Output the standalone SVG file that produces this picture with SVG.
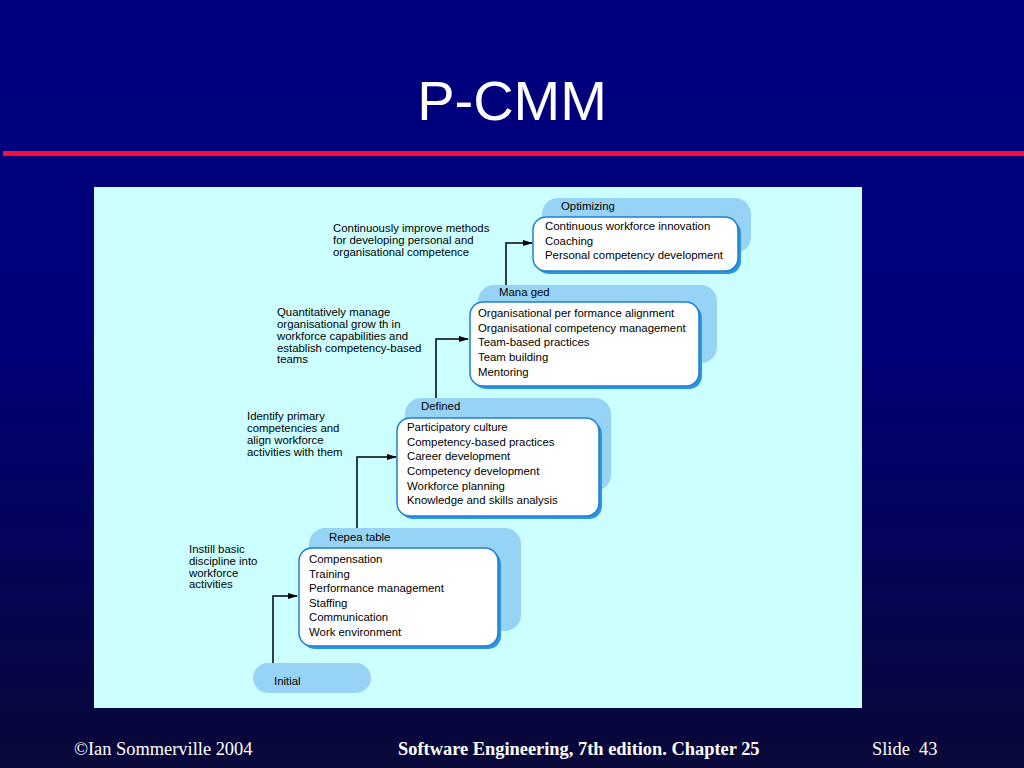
<svg xmlns="http://www.w3.org/2000/svg" width="1024" height="768" viewBox="0 0 1024 768">
<defs>
<linearGradient id="bg" x1="0" y1="0" x2="0" y2="1">
<stop offset="0" stop-color="#000080"/>
<stop offset="0.45" stop-color="#000078"/>
<stop offset="1" stop-color="#080838"/>
</linearGradient>
<marker id="ah" markerWidth="10" markerHeight="8" refX="9" refY="4" orient="auto" markerUnits="userSpaceOnUse">
<path d="M0,1 L10,4 L0,7 Z" fill="#000"/>
</marker>
<style>
.tab{fill:#96d3f5;}
.shadow{fill:#2b95dd;}
.box{fill:#ffffff;stroke:#1f7fd0;stroke-width:1.5;}
.t{font-family:"Liberation Sans",Arial,sans-serif;font-size:11.4px;fill:#000;}
.conn{fill:none;stroke:#000;stroke-width:1.5;}
.foot{font-family:"Liberation Serif","Times New Roman",serif;font-size:18.4px;fill:#fff;}
</style>
</defs>
<rect x="0" y="0" width="1024" height="768" fill="url(#bg)"/>
<text x="512" y="120" text-anchor="middle" font-family="Liberation Sans,Arial,sans-serif" font-size="56" fill="#fff">P-CMM</text>
<rect x="3" y="151" width="1021" height="5" fill="#f0103a"/>
<rect x="94" y="187" width="768" height="521" fill="#ccffff"/>

<g id="initial">
<rect class="tab" x="253" y="663" width="118" height="30" rx="15"/>
<text class="t" x="274" y="685">Initial</text>
</g>

<g id="repeatable">
<rect class="tab" x="309" y="528" width="212" height="103" rx="16"/>
<text class="t" x="329" y="541">Repea table</text>
<rect class="shadow" x="302" y="551" width="199" height="98" rx="13"/>
<rect class="box" x="299" y="548" width="199" height="98" rx="13"/>
<text class="t" x="309" y="563">Compensation</text>
<text class="t" x="309" y="578">Training</text>
<text class="t" x="309" y="592">Performance management</text>
<text class="t" x="309" y="607">Staffing</text>
<text class="t" x="309" y="621">Communication</text>
<text class="t" x="309" y="636">Work environment</text>
</g>

<g id="defined">
<rect class="tab" x="405" y="398" width="206" height="93" rx="16"/>
<text class="t" x="421" y="410">Defined</text>
<rect class="shadow" x="400" y="421" width="202" height="98" rx="13"/>
<rect class="box" x="397" y="418" width="202" height="98" rx="13"/>
<text class="t" x="407" y="431">Participatory culture</text>
<text class="t" x="407" y="446">Competency-based practices</text>
<text class="t" x="407" y="460">Career development</text>
<text class="t" x="407" y="475">Competency development</text>
<text class="t" x="407" y="490">Workforce planning</text>
<text class="t" x="407" y="504">Knowledge and skills analysis</text>
</g>

<g id="managed">
<rect class="tab" x="478" y="285" width="239" height="78" rx="16"/>
<text class="t" x="499" y="296">Mana ged</text>
<rect class="shadow" x="473" y="305" width="229" height="84" rx="13"/>
<rect class="box" x="470" y="302" width="229" height="84" rx="13"/>
<text class="t" x="478" y="317">Organisational per formance alignment</text>
<text class="t" x="478" y="332">Organisational competency management</text>
<text class="t" x="478" y="346">Team-based practices</text>
<text class="t" x="478" y="361">Team building</text>
<text class="t" x="478" y="376">Mentoring</text>
</g>

<g id="optimizing">
<rect class="tab" x="542" y="198" width="209" height="55" rx="16"/>
<text class="t" x="561" y="210">Optimizing</text>
<rect class="shadow" x="536" y="220" width="205" height="54" rx="13"/>
<rect class="box" x="533" y="217" width="205" height="54" rx="13"/>
<text class="t" x="545" y="230">Continuous workforce innovation</text>
<text class="t" x="545" y="245">Coaching</text>
<text class="t" x="545" y="259">Personal competency development</text>
</g>

<g id="labels">
<text class="t" x="333" y="232">Continuously improve methods</text>
<text class="t" x="333" y="244">for developing personal and</text>
<text class="t" x="333" y="256">organisational competence</text>
<text class="t" x="277" y="316">Quantitatively manage</text>
<text class="t" x="277" y="328">organisational grow th in</text>
<text class="t" x="277" y="340">workforce capabilities and</text>
<text class="t" x="277" y="352">establish competency-based</text>
<text class="t" x="277" y="363">teams</text>
<text class="t" x="247" y="420">Identify primary</text>
<text class="t" x="247" y="432">competencies and</text>
<text class="t" x="247" y="444">align workforce</text>
<text class="t" x="247" y="456">activities with them</text>
<text class="t" x="189" y="553">Instill basic</text>
<text class="t" x="189" y="565">discipline into</text>
<text class="t" x="189" y="577">workforce</text>
<text class="t" x="189" y="588">activities</text>
</g>

<g id="connectors">
<path class="conn" d="M273,663 V596 H297" marker-end="url(#ah)"/>
<path class="conn" d="M357,528 V457 H396" marker-end="url(#ah)"/>
<path class="conn" d="M436,398 V339 H468" marker-end="url(#ah)"/>
<path class="conn" d="M506,285 V243 H532" marker-end="url(#ah)"/>
</g>

<text class="foot" x="74" y="755">©Ian Sommerville 2004</text>
<text class="foot" x="398" y="755" font-weight="bold">Software Engineering, 7th edition. Chapter 25</text>
<text class="foot" x="872" y="755" xml:space="preserve">Slide  43</text>
</svg>
